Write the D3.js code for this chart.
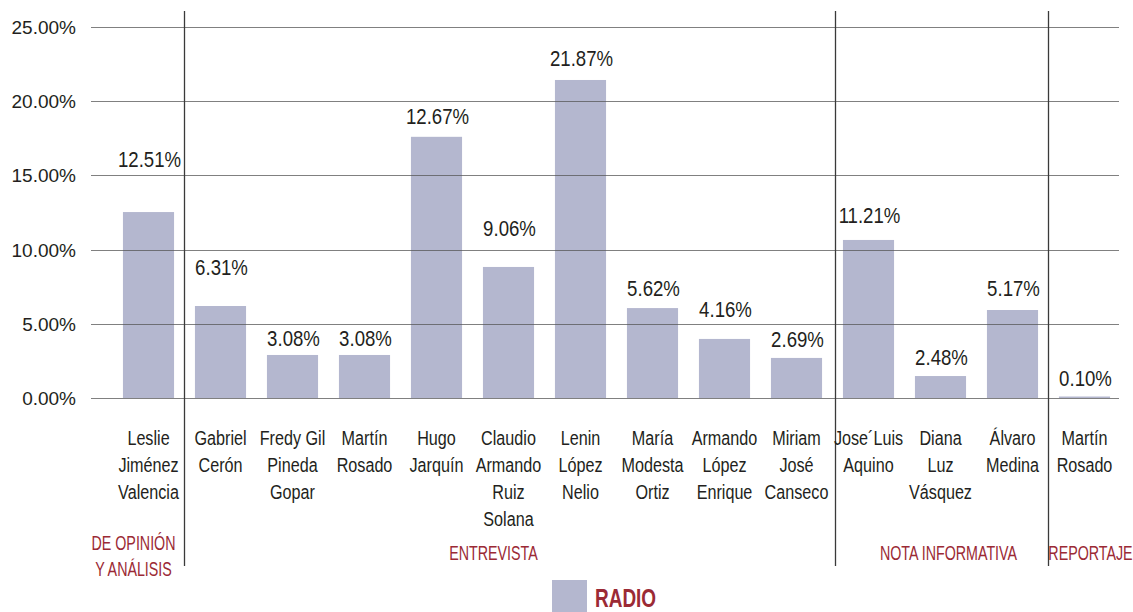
<!DOCTYPE html>
<meta charset="utf-8">
<style>
body { margin: 0; background: #fff; }
text {
  font-family: "Liberation Sans", Arial, sans-serif;
  fill: #231f20;
}
.grid line { stroke: #555; stroke-opacity: 0.75; }
.sep line { stroke: #3a3a3a; stroke-width: 1.3px; }
.group text { fill: #9b2a35; }
</style>
<body>
<svg id="chart" width="1133" height="612"></svg>

<script src="https://d3js.org/d3.v7.min.js"></script>
<script>

// names, one entry per line of the label
var names = [
  ["Leslie", "Jiménez", "Valencia"],
  ["Gabriel", "Cerón"],
  ["Fredy Gil", "Pineda", "Gopar"],
  ["Martín", "Rosado"],
  ["Hugo", "Jarquín"],
  ["Claudio", "Armando", "Ruiz", "Solana"],
  ["Lenin", "López", "Nelio"],
  ["María", "Modesta", "Ortiz"],
  ["Armando", "López", "Enrique"],
  ["Miriam", "José", "Canseco"],
  ["Jose´Luis", "Aquino"],
  ["Diana", "Luz", "Vásquez"],
  ["Álvaro", "Medina"],
  ["Martín", "Rosado"]
];

// bar heights as drawn (percent)
var barValues = [12.53, 6.2, 2.9, 2.9, 17.6, 8.83, 21.43, 6.06, 3.98, 2.7, 10.65, 1.48, 5.93, 0.1];

// printed labels and the height (percent) where they sit
var valueLabels = ["12.51%", "6.31%", "3.08%", "3.08%", "12.67%", "9.06%", "21.87%",
                   "5.62%", "4.16%", "2.69%", "11.21%", "2.48%", "5.17%", "0.10%"];
var labelAt = [15.57, 8.29, 3.5, 3.5, 18.46, 10.92, 22.37, 6.87, 5.46, 3.44, 11.79, 2.22, 6.87, 0.81];

var groups = [
  {name: ["DE OPINIÓN", "Y ANÁLISIS"], first: 0, last: 0},
  {name: ["ENTREVISTA"], first: 1, last: 9},
  {name: ["NOTA INFORMATIVA"], first: 10, last: 12},
  {name: ["REPORTAJE"], first: 13, last: 13}
];

var yTicks = [0, 5, 10, 15, 20, 25];
var seriesName = "RADIO";

var svg = d3.select("#chart");

var x = d3.scaleBand()
    .domain(d3.range(names.length))
    .range([112.5, 1120.5])
    .paddingInner(0.29)
    .paddingOuter(0.145);

var y = d3.scaleLinear()
    .domain([0, 25])
    .range([398, 27]);

// bars
svg.append("g")
  .selectAll("rect")
  .data(barValues)
  .enter().append("rect")
    .attr("x", function(d, i) { return x(i); })
    .attr("y", function(d) { return y(d); })
    .attr("width", x.bandwidth())
    .attr("height", function(d) { return y(0) - y(d); })
    .attr("fill", "#b4b7cf");

// grid lines on top of bars
svg.append("g")
    .attr("class", "grid")
  .selectAll("line")
  .data(yTicks)
  .enter().append("line")
    .attr("x1", 91)
    .attr("x2", 1119)
    .attr("y1", function(d) { return Math.round(y(d)) + 0.5; })
    .attr("y2", function(d) { return Math.round(y(d)) + 0.5; });

// y axis labels
svg.append("g")
  .selectAll("text")
  .data(yTicks)
  .enter().append("text")
    .attr("x", 76)
    .attr("y", function(d) { return y(d) + 7; })
    .attr("text-anchor", "end")
    .style("font-size", "19px")
    .text(function(d) { return d3.format(".2f")(d) + "%"; });

// group separators
var step = x.step();
var sepX = groups.slice(1).map(function(g) {
  var sx = x(g.first) - x.paddingInner() * step / 2;
  return g.first === 10 ? sx + 3 : sx;
});
svg.append("g")
    .attr("class", "sep")
  .selectAll("line")
  .data(sepX)
  .enter().append("line")
    .attr("x1", function(d) { return d; })
    .attr("x2", function(d) { return d; })
    .attr("y1", 11)
    .attr("y2", 566);

// value labels (squeezed to look like a condensed face)
svg.append("g")
  .selectAll("text")
  .data(valueLabels)
  .enter().append("text")
    .attr("transform", function(d, i) {
      return "translate(" + (x(i) + x.bandwidth() / 2 + 1) + "," + y(labelAt[i]) + ") scale(0.81,1)";
    })
    .attr("text-anchor", "middle")
    .style("font-size", "23px")
    .text(function(d) { return d; });

// category labels
var cat = svg.append("g")
  .selectAll("text")
  .data(names)
  .enter().append("text")
    .attr("text-anchor", "middle")
    .style("font-size", "21px")
    .attr("transform", function(d, i) {
      return "translate(" + (x(i) + x.bandwidth() / 2) + ",445) scale(0.77,1)";
    });

cat.selectAll("tspan")
  .data(function(d) { return d; })
  .enter().append("tspan")
    .attr("x", 0)
    .attr("y", function(d, j) { return j * 27; })
    .text(function(d) { return d; });

// group labels
var grp = svg.append("g")
    .attr("class", "group")
  .selectAll("text")
  .data(groups)
  .enter().append("text")
    .attr("text-anchor", "middle")
    .style("font-size", "21px")
    .attr("transform", function(g) {
      var x0 = x(g.first) - x.paddingInner() * step / 2;
      var x1 = x(g.last) + x.bandwidth() + x.paddingInner() * step / 2;
      var cx = g.first === 0 ? (x0 + x1) / 2 - 15 : (x0 + x1) / 2;
      if (g.first === 1) cx -= 15;
      if (g.first === 10) cx += 8;
      if (g.first === 13) cx += 6;
      return "translate(" + cx + ",550) scale(0.68,1)";
    });

grp.selectAll("tspan")
  .data(function(g) { return g.name; })
  .enter().append("tspan")
    .attr("x", 0)
    .attr("y", function(d, j, nodes) { return (nodes.length > 1 ? j * 26 : 10); })
    .text(function(d) { return d; });

// legend
var legend = svg.append("g")
    .attr("transform", "translate(552,580)");
legend.append("rect")
    .attr("width", 35)
    .attr("height", 32)
    .attr("fill", "#b4b7cf");
legend.append("text")
    .attr("transform", "translate(43,27) scale(0.73,1)")
    .style("font-size", "26px")
    .style("font-weight", "bold")
    .style("fill", "#9b2a35")
    .text(seriesName);

</script>
</body>
